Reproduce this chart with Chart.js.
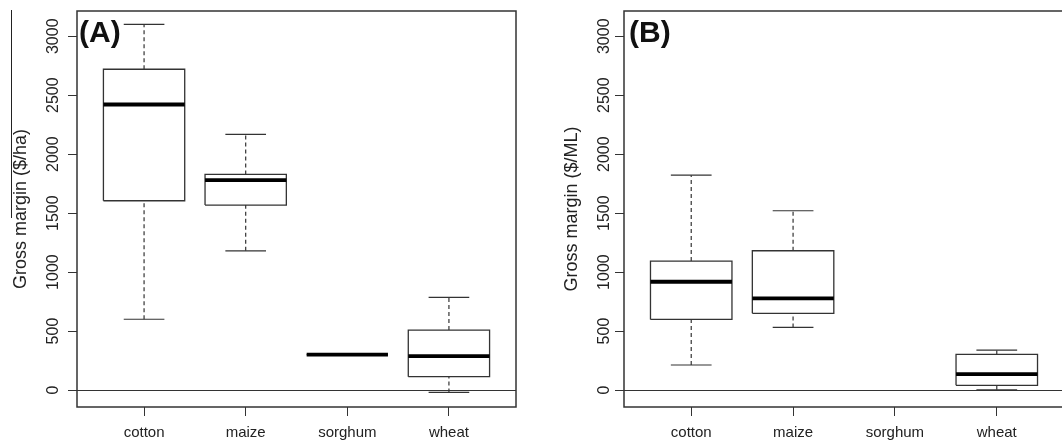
<!DOCTYPE html>
<html>
<head>
<meta charset="utf-8">
<script src="https://cdn.jsdelivr.net/npm/chart.js@4.4.1/dist/chart.umd.min.js"></script>
<style>
    html, body { margin: 0; padding: 0; background: #fff; overflow: hidden; }
    #wrap { position: relative; width: 1062px; height: 441px; overflow: hidden; }
    canvas { position: absolute; top: 0; }
    #chartA { left: 0; }
    #chartB { left: 531px; }
</style>
</head>
<body>
<div id="wrap">
    <canvas id="chartA" width="531" height="441"></canvas>
    <canvas id="chartB" width="533" height="441"></canvas>
</div>
<script>
// Categories and axis ticks
const categories = ['cotton', 'maize', 'sorghum', 'wheat'];
const yTicks = [0, 500, 1000, 1500, 2000, 2500, 3000];

// Panel A - gross margin per hectare (whisker ends, quartiles, median)
const haMin    = [600, 1180, 300, -20];
const haQ1     = [1605, 1568, 300, 113];
const haMedian = [2421, 1780, 300, 288];
const haQ3     = [2720, 1828, 300, 508];
const haMax    = [3100, 2167, 300, 785];

// Panel B - gross margin per megalitre (no sorghum data)
const mlMin    = [212, 531, null, 2];
const mlQ1     = [599, 650, null, 40];
const mlMedian = [918, 777, null, 135];
const mlQ3     = [1093, 1181, null, 302];
const mlMax    = [1822, 1520, null, 339];

// Axis limits (R style 4% extension)
const xMin = 0.34, xMax = 4.66;
const yMin = -144, yMax = 3214;

const FONT = "'Liberation Sans', Arial, Helvetica, sans-serif";
const INK = '#333';

function lineSet(points, width, color, dash) {
    return {
        data: points,
        showLine: true,
        borderColor: color,
        borderWidth: width,
        borderDash: dash || [],
        pointRadius: 0,
        fill: false,
        tension: 0
    };
}

// Build box plot pieces from the stats arrays
function boxDatasets(mins, q1s, meds, q3s, maxs) {
    const sets = [];
    const hw = 0.4, cw = 0.2;
    categories.forEach((c, i) => {
        if (meds[i] === null) return;
        const x = i + 1;
        // whiskers
        sets.push(lineSet([{x: x, y: q3s[i]}, {x: x, y: maxs[i]}], 1.2, INK, [4, 3]));
        sets.push(lineSet([{x: x, y: mins[i]}, {x: x, y: q1s[i]}], 1.2, INK, [4, 3]));
        sets.push(lineSet([{x: x - cw, y: maxs[i]}, {x: x + cw, y: maxs[i]}], 1.2, INK));
        sets.push(lineSet([{x: x - cw, y: mins[i]}, {x: x + cw, y: mins[i]}], 1.2, INK));
        // box
        sets.push(lineSet([
            {x: x - hw, y: q1s[i]}, {x: x + hw, y: q1s[i]},
            {x: x + hw, y: q3s[i]}, {x: x - hw, y: q3s[i]},
            {x: x - hw, y: q1s[i]}
        ], 1.3, INK));
        // median
        sets.push(lineSet([{x: x - hw, y: meds[i]}, {x: x + hw, y: meds[i]}], 3.8, '#000'));
    });
    // chart.js paints the first dataset last, so flip to keep medians on top
    return sets.reverse();
}

// Frame, zero line and panel letter
const panelDecor = {
    id: 'panelDecor',
    beforeDatasetsDraw(chart, args, opts) {
        const {ctx, chartArea: a, scales: {y}} = chart;
        const y0 = Math.round(y.getPixelForValue(0)) + 0.5;
        ctx.save();
        ctx.strokeStyle = INK;
        ctx.lineWidth = 1;
        ctx.beginPath();
        ctx.moveTo(a.left, y0);
        ctx.lineTo(a.right, y0);
        ctx.stroke();
        ctx.restore();
    },
    afterDraw(chart, args, opts) {
        const {ctx, chartArea: a} = chart;
        ctx.save();
        ctx.strokeStyle = INK;
        ctx.lineWidth = 1.5;
        ctx.strokeRect(a.left, a.top, a.right - a.left, a.bottom - a.top);
        ctx.fillStyle = '#111';
        ctx.font = 'bold 30px ' + FONT;
        ctx.textBaseline = 'alphabetic';
        ctx.textAlign = 'left';
        ctx.fillText(opts.label, a.left + opts.labelDx, a.top + 31);
        if (opts.stray) {
            // thin stray rule seen beside the axis title
            ctx.strokeStyle = '#222';
            ctx.lineWidth = 1;
            ctx.beginPath();
            ctx.moveTo(11.5, 10);
            ctx.lineTo(11.5, 218);
            ctx.stroke();
        }
        ctx.restore();
    }
};

function makeChart(id, datasets, opt) {
    const ctx = document.getElementById(id).getContext('2d');
    return new Chart(ctx, {
        type: 'scatter',
        data: { datasets: datasets },
        options: {
            responsive: false,
            animation: false,
            devicePixelRatio: 1,
            layout: { padding: { top: 11, right: opt.padRight, bottom: 0, left: 0 } },
            plugins: {
                legend: { display: false },
                tooltip: { enabled: false },
                panelDecor: { label: opt.label, labelDx: opt.labelDx, stray: opt.stray }
            },
            scales: {
                x: {
                    type: 'linear',
                    min: xMin,
                    max: xMax,
                    afterBuildTicks: s => { s.ticks = categories.map((c, i) => ({ value: i + 1 })); },
                    afterFit: s => { s.height = 34; },
                    border: { display: false },
                    grid: { drawOnChartArea: false, drawTicks: true, tickLength: 9, color: INK },
                    ticks: {
                        autoSkip: false,
                        maxRotation: 0,
                        padding: 8,
                        color: '#222',
                        font: { family: FONT, size: 15 },
                        callback: v => categories[v - 1]
                    }
                },
                y: {
                    min: yMin,
                    max: yMax,
                    afterBuildTicks: s => { s.ticks = yTicks.map(v => ({ value: v })); },
                    afterFit: s => { s.width = opt.axisWidth; },
                    border: { display: false },
                    grid: { drawOnChartArea: false, drawTicks: true, tickLength: 9, color: INK },
                    ticks: {
                        autoSkip: false,
                        minRotation: 90,
                        maxRotation: 90,
                        crossAlign: 'center',
                        padding: opt.tickPad,
                        color: '#222',
                        font: { family: FONT, size: 16 },
                        callback: v => String(v)
                    },
                    title: {
                        display: true,
                        text: opt.title,
                        color: '#222',
                        font: { family: FONT, size: 18 },
                        padding: { top: opt.titlePad, bottom: 0 }
                    }
                }
            }
        },
        plugins: [panelDecor]
    });
}

makeChart('chartA', boxDatasets(haMin, haQ1, haMedian, haQ3, haMax), {
    label: '(A)', labelDx: 2, stray: true,
    title: 'Gross margin ($/ha)', titlePad: 10,
    axisWidth: 77, tickPad: -3.5, padRight: 15
});

makeChart('chartB', boxDatasets(mlMin, mlQ1, mlMedian, mlQ3, mlMax), {
    label: '(B)', labelDx: 5, stray: false,
    title: 'Gross margin ($/ML)', titlePad: 30,
    axisWidth: 93, tickPad: -7, padRight: 0
});
</script>
</body>
</html>
